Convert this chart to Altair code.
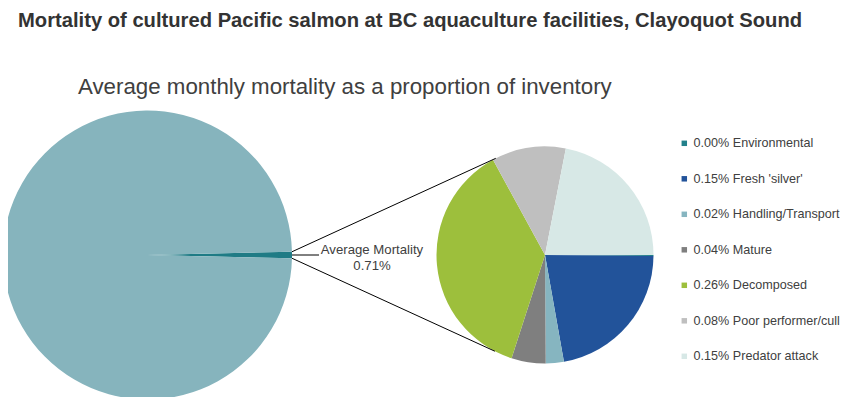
import math
import altair as alt
import pandas as pd

# ---------------- data ----------------
categories = ["Environmental", "Fresh 'silver'", "Handling/Transport", "Mature",
              "Decomposed", "Poor performer/cull", "Predator attack"]
pct_labels = ["0.00%", "0.15%", "0.02%", "0.04%", "0.26%", "0.08%", "0.15%"]
# share of monthly inventory (%)
values = [0.001, 0.156, 0.019, 0.036, 0.262, 0.078, 0.155]
colors = ["#22808A", "#22539A", "#86B5C0", "#7F7F7F", "#9DBF3C", "#BFBFBF", "#D7E8E6"]

big_labels = ["Average Mortality", "Remaining inventory"]
big_values = [0.71, 99.29]
big_colors = ["#1F7B85", "#86B4BD"]

title_text = "Mortality of cultured Pacific salmon at BC aquaculture facilities, Clayoquot Sound"
subtitle_text = "Average monthly mortality as a proportion of inventory"
callout_text = "Average Mortality\n0.71%"

# ---------------- layout (plot coordinates) ----------------
TOP = 10                     # top padding
W, H = 834, 389 - TOP
big_cx, big_cy, big_r = 139.5, 247 - TOP, 144.5
small_cx, small_cy, small_r = 537, 247 - TOP, 108.5
FONT = "Liberation Sans"
TXT = "#404040"

legend_labels = [f"{p} {c}" for p, c in zip(pct_labels, categories)]
small_df = pd.DataFrame({"label": legend_labels, "value": values,
                         "idx": list(range(len(values)))})
big_df = pd.DataFrame({"part": big_labels, "value": big_values, "idx": [0, 1]})

# big pie: thin slice centred on 3 o'clock
half = big_values[0] / sum(big_values) * math.pi
big_start = math.pi / 2 - half
big = alt.Chart(big_df).mark_arc(radius=big_r).encode(
    theta=alt.Theta("value:Q", stack=True,
                    scale=alt.Scale(range=[big_start, big_start + 2 * math.pi])),
    order=alt.Order("idx:Q"),
    color=alt.Color("part:N", scale=alt.Scale(domain=big_labels, range=big_colors),
                    legend=None),
    x=alt.value(big_cx), y=alt.value(big_cy),
)

small = alt.Chart(small_df).mark_arc(radius=small_r).encode(
    theta=alt.Theta("value:Q", stack=True,
                    scale=alt.Scale(range=[math.pi / 2, math.pi / 2 + 2 * math.pi])),
    order=alt.Order("idx:Q"),
    color=alt.Color("label:N", scale=alt.Scale(domain=legend_labels, range=colors),
                    legend=alt.Legend(title=None, orient="none", legendX=670,
                                      legendY=129 - TOP,
                                      symbolType="square", symbolSize=30,
                                      symbolStrokeWidth=0, rowPadding=22.5,
                                      labelFont=FONT, labelFontSize=12.6,
                                      labelColor=TXT, labelOffset=3, padding=0)),
    x=alt.value(small_cx), y=alt.value(small_cy),
)

# connector lines (from slice tip to the secondary pie edge)
def on_small(deg):
    a = math.radians(deg)
    return small_cx + small_r * math.sin(a), small_cy - small_r * math.cos(a)

tx, ty = big_cx + big_r * math.cos(half), big_cy - big_r * math.sin(half)
bx, by = tx, big_cy + big_r * math.sin(half)
e1 = on_small(333)
e2 = on_small(207.5)
lines_df = pd.DataFrame({"x": [tx, bx, big_cx + big_r],
                         "y": [ty, by, big_cy],
                         "x2": [e1[0], e2[0], big_cx + big_r + 27],
                         "y2": [e1[1], e2[1], big_cy]})
lines = alt.Chart(lines_df).mark_rule(color="#000000", strokeWidth=1).encode(
    x=alt.X("x:Q", scale=None), y=alt.Y("y:Q", scale=None),
    x2="x2:Q", y2="y2:Q",
)

callout = alt.Chart(pd.DataFrame({"t": [callout_text]})).mark_text(
    font=FONT, fontSize=13.2, color=TXT, align="center", baseline="middle",
    lineBreak="\n", lineHeight=16,
).encode(text="t:N", x=alt.value(364), y=alt.value(242 - TOP))

title = alt.Chart(pd.DataFrame({"t": [title_text]})).mark_text(
    font=FONT, fontSize=20.2, fontWeight="bold", color="#333333",
    align="left", baseline="alphabetic",
).encode(text="t:N", x=alt.value(10), y=alt.value(19 - TOP))

subtitle = alt.Chart(pd.DataFrame({"t": [subtitle_text]})).mark_text(
    font=FONT, fontSize=22.3, color=TXT, align="left", baseline="alphabetic",
).encode(text="t:N", x=alt.value(70), y=alt.value(86 - TOP))

chart = alt.layer(big, small, lines, callout, title, subtitle).resolve_scale(
    color="independent", theta="independent"
).properties(
    width=W, height=H,
    padding={"left": 0, "top": TOP, "right": 0, "bottom": 0},
    autosize=alt.AutoSizeParams(type="none"),
).configure_view(stroke=None)

chart.save("out.html", embed_options={"renderer": "svg", "actions": False})
